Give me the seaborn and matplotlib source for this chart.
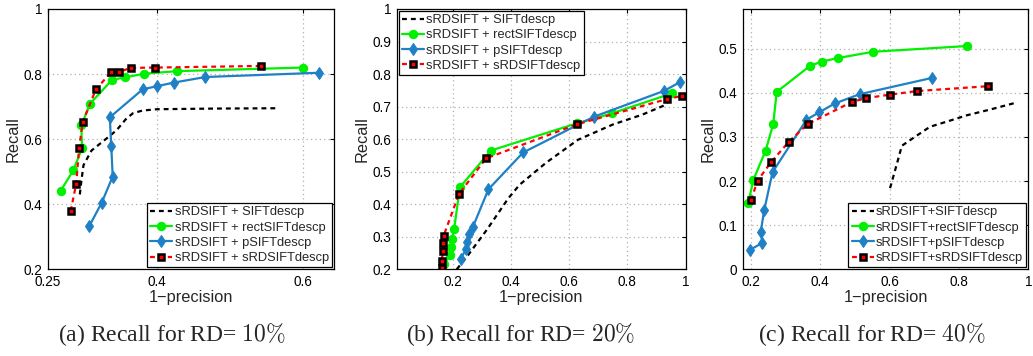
import matplotlib
matplotlib.use("Agg")
import matplotlib.pyplot as plt
import seaborn as sns
import pandas as pd

sns.set_style("white")
plt.rcParams['font.family'] = ['Liberation Sans', 'DejaVu Sans']
plt.rcParams['mathtext.fontset'] = 'cm'

# ---------------- data: panel (a) RD = 10% ----------------
a_sift_x = [0.294, 0.296, 0.299, 0.31, 0.335, 0.3445, 0.358, 0.367, 0.38, 0.40, 0.48, 0.564]
a_sift_y = [0.43, 0.47, 0.52, 0.565, 0.61, 0.628, 0.664, 0.68, 0.688, 0.692, 0.694, 0.695]
a_rect_x = [0.268, 0.285, 0.297, 0.296, 0.308, 0.338, 0.356, 0.382, 0.427, 0.599]
a_rect_y = [0.442, 0.504, 0.572, 0.642, 0.709, 0.782, 0.790, 0.801, 0.809, 0.820]
a_psift_x = [0.307, 0.324, 0.339, 0.337, 0.335, 0.380, 0.400, 0.423, 0.466, 0.621]
a_psift_y = [0.333, 0.405, 0.485, 0.580, 0.667, 0.753, 0.763, 0.774, 0.791, 0.804]
a_srd_x = [0.2815, 0.289, 0.293, 0.298, 0.316, 0.337, 0.348, 0.364, 0.397, 0.542]
a_srd_y = [0.379, 0.463, 0.572, 0.653, 0.753, 0.806, 0.807, 0.819, 0.820, 0.825]

# ---------------- data: panel (b) RD = 20% ----------------
b_sift_x = [0.214, 0.25, 0.317, 0.391, 0.43, 0.52, 0.63, 0.75, 0.85, 0.922, 0.939]
b_sift_y = [0.2, 0.24, 0.321, 0.418, 0.46, 0.527, 0.598, 0.645, 0.675, 0.702, 0.714]
b_rect_x = [0.17, 0.191, 0.194, 0.198, 0.205, 0.225, 0.331, 0.628, 0.746, 0.954]
b_rect_y = [0.215, 0.244, 0.268, 0.293, 0.323, 0.452, 0.565, 0.649, 0.679, 0.741]
b_psift_x = [0.227, 0.246, 0.251, 0.257, 0.269, 0.323, 0.442, 0.685, 0.925, 0.982]
b_psift_y = [0.231, 0.262, 0.285, 0.309, 0.329, 0.446, 0.559, 0.669, 0.748, 0.776]
b_srd_x = [0.162, 0.162, 0.168, 0.166, 0.169, 0.222, 0.315, 0.628, 0.935, 0.988]
b_srd_y = [0.203, 0.226, 0.256, 0.280, 0.303, 0.432, 0.541, 0.646, 0.723, 0.733]

# ---------------- data: panel (c) RD = 40% ----------------
c_sift_x = [0.601, 0.620, 0.635, 0.678, 0.716, 0.774, 0.822, 0.889, 0.966]
c_sift_y = [0.184, 0.237, 0.280, 0.303, 0.323, 0.337, 0.349, 0.362, 0.378]
c_rect_x = [0.192, 0.207, 0.242, 0.264, 0.274, 0.370, 0.404, 0.452, 0.551, 0.822]
c_rect_y = [0.151, 0.203, 0.269, 0.329, 0.402, 0.461, 0.471, 0.479, 0.493, 0.506]
c_psift_x = [0.197, 0.233, 0.228, 0.238, 0.262, 0.360, 0.397, 0.442, 0.514, 0.723]
c_psift_y = [0.044, 0.060, 0.085, 0.134, 0.220, 0.339, 0.356, 0.376, 0.397, 0.434]
c_srd_x = [0.200, 0.219, 0.258, 0.309, 0.363, 0.490, 0.531, 0.602, 0.678, 0.883]
c_srd_y = [0.157, 0.201, 0.243, 0.289, 0.329, 0.379, 0.388, 0.396, 0.404, 0.415]

labels_spaced = ["sRDSIFT + SIFTdescp", "sRDSIFT + rectSIFTdescp",
                 "sRDSIFT + pSIFTdescp", "sRDSIFT + sRDSIFTdescp"]
labels_tight = ["sRDSIFT+SIFTdescp", "sRDSIFT+rectSIFTdescp",
                "sRDSIFT+pSIFTdescp", "sRDSIFT+sRDSIFTdescp"]

a_xticks = [0.25, 0.4, 0.6]
a_xticklabels = ["0.25", "0.4", "0.6"]
a_yticks = [0.2, 0.4, 0.6, 0.8, 1.0]
a_yticklabels = ["0.2", "0.4", "0.6", "0.8", "1"]
b_xticks = [0.2, 0.4, 0.6, 0.8, 1.0]
b_xticklabels = ["0.2", "0.4", "0.6", "0.8", "1"]
b_yticks = [0.2, 0.3, 0.4, 0.5, 0.6, 0.7, 0.8, 0.9, 1.0]
b_yticklabels = ["0.2", "0.3", "0.4", "0.5", "0.6", "0.7", "0.8", "0.9", "1"]
c_xticks = [0.2, 0.4, 0.6, 0.8, 1.0]
c_xticklabels = ["0.2", "0.4", "0.6", "0.8", "1"]
c_yticks = [0, 0.1, 0.2, 0.3, 0.4, 0.5]
c_yticklabels = ["0", "0.1", "0.2", "0.3", "0.4", "0.5"]

captions = [r"(a) Recall for RD= $10\%$", r"(b) Recall for RD= $20\%$",
            r"(c) Recall for RD= $40\%$"]

GREEN = "#00f000"
BLUE = "#1f80c6"
RED = "#ff0000"

styles = [
    dict(color="black", lw=1.6, linestyle=(0, (2.2, 1.8)), marker=None),
    dict(color=GREEN, lw=1.6, linestyle="-", marker="o", markersize=6,
         markerfacecolor=GREEN, markeredgecolor=GREEN),
    dict(color=BLUE, lw=1.6, linestyle="-", marker="d", markersize=6.5,
         markerfacecolor=BLUE, markeredgecolor=BLUE),
    dict(color=RED, lw=1.6, linestyle=(0, (2.2, 1.8)), marker="s", markersize=5,
         markerfacecolor=RED, markeredgecolor="black", markeredgewidth=1.8),
]

W, H = 1033, 356
fig = plt.figure(figsize=(W / 100, H / 100), dpi=100)

def axes_rect(left, right, top, bottom):
    return [left / W, 1 - bottom / H, (right - left) / W, (bottom - top) / H]

panels = [
    dict(rect=axes_rect(47.7, 334, 9, 269.3), xlim=(0.25, 0.642), ylim=(0.2, 1.0),
         xt=a_xticks, xtl=a_xticklabels, yt=a_yticks, ytl=a_yticklabels,
         series=[(a_sift_x, a_sift_y), (a_rect_x, a_rect_y), (a_psift_x, a_psift_y), (a_srd_x, a_srd_y)],
         labels=labels_spaced, loc="lower right", cap_x=172),
    dict(rect=axes_rect(396.7, 685.7, 9, 269.3), xlim=(0.008, 1.0), ylim=(0.2, 1.0),
         xt=b_xticks, xtl=b_xticklabels, yt=b_yticks, ytl=b_yticklabels,
         series=[(b_sift_x, b_sift_y), (b_rect_x, b_rect_y), (b_psift_x, b_psift_y), (b_srd_x, b_srd_y)],
         labels=labels_spaced, loc="upper left", cap_x=521),
    dict(rect=axes_rect(742.7, 1028.4, 9, 269.3), xlim=(0.176, 1.0), ylim=(0.0, 0.59),
         xt=c_xticks, xtl=c_xticklabels, yt=c_yticks, ytl=c_yticklabels,
         series=[(c_sift_x, c_sift_y), (c_rect_x, c_rect_y), (c_psift_x, c_psift_y), (c_srd_x, c_srd_y)],
         labels=labels_tight, loc="lower right", cap_x=872),
]

for i, p in enumerate(panels):
    ax = fig.add_axes(p["rect"])
    for (xs, ys), lab, st in zip(p["series"], p["labels"], styles):
        df = pd.DataFrame({"x": xs, "y": ys})
        sns.lineplot(data=df, x="x", y="y", sort=False, estimator=None, ax=ax,
                     label=lab, **st)
    ax.set_xlim(*p["xlim"])
    ax.set_ylim(*p["ylim"])
    ax.set_xticks(p["xt"])
    ax.set_xticklabels(p["xtl"])
    ax.set_yticks(p["yt"])
    ax.set_yticklabels(p["ytl"])
    ax.grid(True, color="#b0b0b0", linestyle=(0, (1, 2.5)), linewidth=0.9)
    ax.set_axisbelow(True)
    for s in ax.spines.values():
        s.set_visible(True)
        s.set_color("black")
        s.set_linewidth(0.9)
    ax.tick_params(direction="in", length=3, width=0.8, top=True, right=True,
                   labelsize=9.8, pad=4, colors="black")
    ax.set_xlabel("1\u2212precision", fontsize=11.8, labelpad=1)
    ax.set_ylabel("Recall", fontsize=11.8, labelpad=2)
    leg = ax.legend(loc=p["loc"], fontsize=9.3, frameon=True, fancybox=False,
                    framealpha=1, edgecolor="black", borderaxespad=0.15,
                    handlelength=1.7, handletextpad=0.2, labelspacing=0.25,
                    borderpad=0.25)
    leg.get_frame().set_linewidth(0.9)
    fig.text(p["cap_x"] / W, 1 - 335 / H, captions[i], ha="center", va="center",
             fontsize=17, family=["Liberation Serif", "DejaVu Serif"])

fig.savefig("out.png", dpi=100)
